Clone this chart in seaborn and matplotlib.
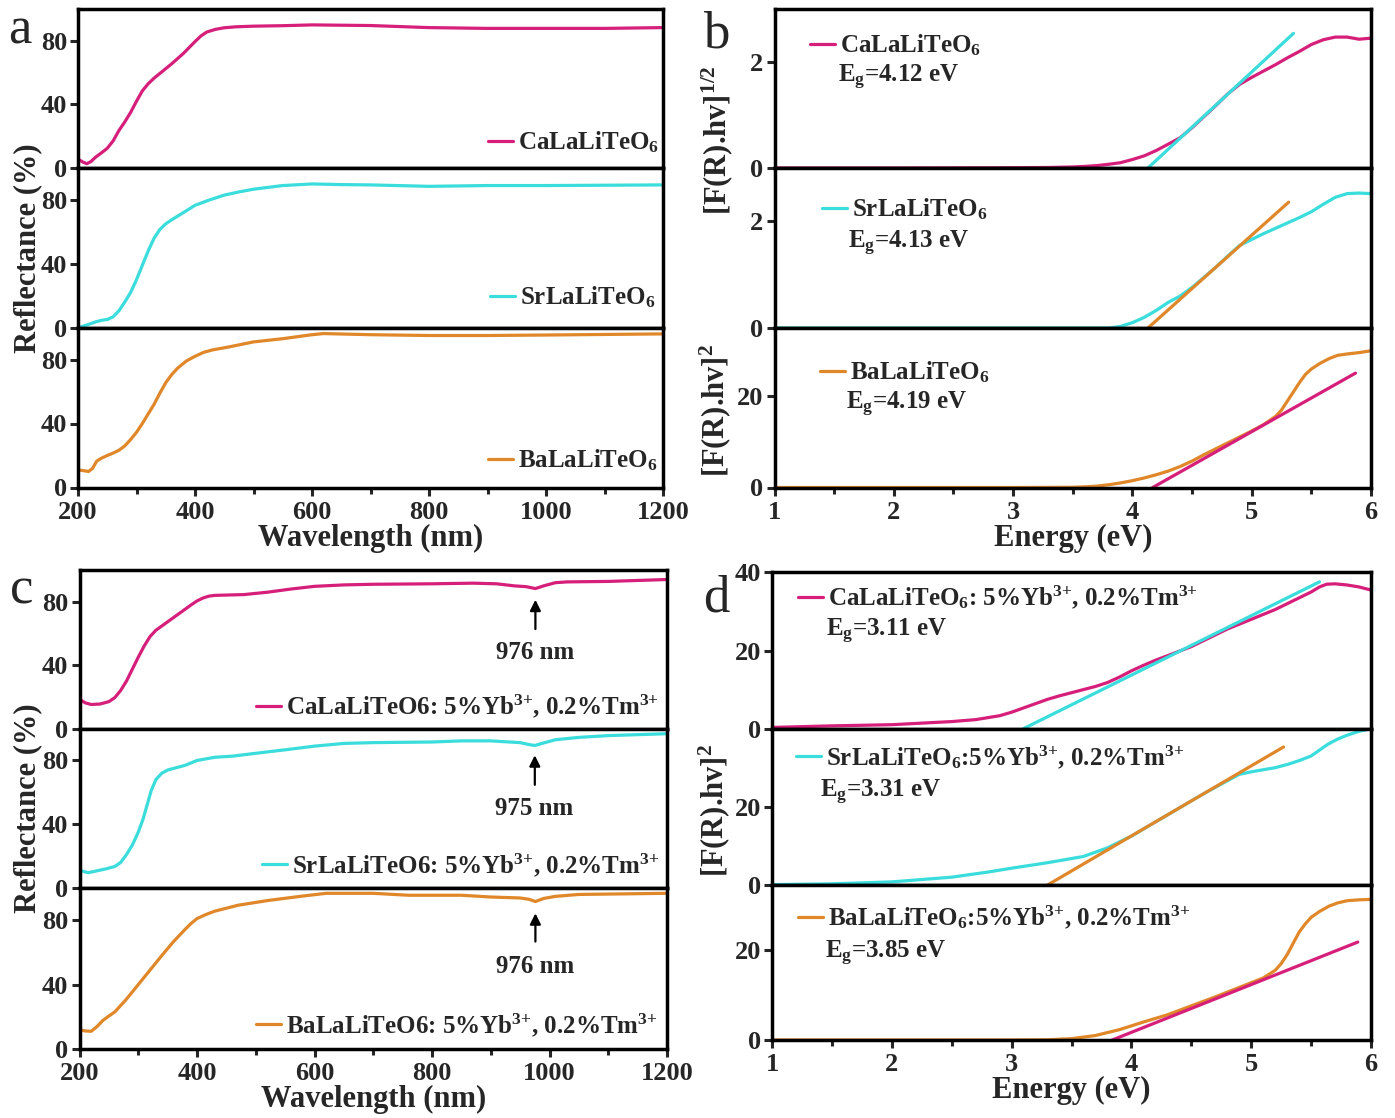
import numpy as np
import pandas as pd
import matplotlib
matplotlib.use('Agg')
import matplotlib.pyplot as plt
import seaborn as sns

sns.set_theme(style='ticks')
plt.rcParams['font.family'] = ['Liberation Serif', 'DejaVu Serif']
plt.rcParams['font.weight'] = 'bold'
plt.rcParams['mathtext.fontset'] = 'custom'
plt.rcParams['mathtext.rm'] = 'Liberation Serif:bold'
plt.rcParams['mathtext.it'] = 'Liberation Serif:bold'
plt.rcParams['mathtext.bf'] = 'Liberation Serif:bold'
plt.rcParams['mathtext.default'] = 'rm'

MAG = '#d61f7a'
CYA = '#3adcdc'
ORA = '#e0872a'
lw = 2.3
fs_tick = 19
fs_lab = 22
fs_leg = 18

# ---- panel a: reflectance of hosts ----
wl_a_ca = [200, 208, 215, 222, 230, 240, 250, 260, 270, 280, 290, 300, 310, 320, 330, 345, 360, 380, 400, 410, 420, 435, 450, 470, 500, 550, 600, 700, 800, 900, 1000, 1100, 1200]
r_a_ca = [5.6, 3.8, 2.7, 4, 6.8, 9.5, 12.4, 17, 23.6, 29, 35, 42, 48.5, 53, 56.5, 61, 65.5, 72, 79.5, 83, 85.5, 87.2, 88.2, 88.8, 89.2, 89.5, 90, 89.6, 88.3, 87.8, 87.8, 87.8, 88.3]
wl_a_sr = [200, 210, 220, 230, 240, 250, 260, 270, 280, 290, 300, 310, 320, 330, 340, 350, 360, 380, 400, 425, 450, 475, 500, 550, 600, 650, 700, 800, 900, 1000, 1200]
r_a_sr = [0, 1, 2.2, 3.5, 4.5, 5, 6.7, 10.5, 16, 22, 30, 39, 48, 56, 61.5, 65, 67.5, 72, 76.6, 80, 83, 85, 86.7, 89, 90, 89.6, 89.4, 88.5, 89, 89, 89.4]
wl_a_ba = [200, 210, 218, 225, 232, 240, 250, 260, 270, 280, 290, 300, 310, 320, 330, 340, 350, 360, 370, 385, 400, 415, 430, 460, 500, 550, 600, 620, 700, 800, 900, 1000, 1200]
r_a_ba = [11, 10.5, 10, 12, 16.5, 18.3, 20, 21.5, 23.3, 26, 30, 34.5, 40, 46, 52, 59, 65.5, 70.5, 74.5, 79, 82, 84.5, 86, 88, 91, 93, 95.5, 96.2, 95.5, 95, 95, 95.3, 96]

# ---- panel b: Tauc plots of hosts ----
e_b_ca = [1, 2, 3, 3.3, 3.5, 3.6, 3.7, 3.8, 3.9, 4.0, 4.1, 4.2, 4.3, 4.4, 4.5, 4.6, 4.7, 4.8, 4.9, 5.0, 5.1, 5.2, 5.3, 5.4, 5.5, 5.6, 5.7, 5.8, 5.9, 6.0]
f_b_ca = [0, 0, 0.005, 0.01, 0.02, 0.03, 0.045, 0.07, 0.1, 0.16, 0.23, 0.33, 0.45, 0.57, 0.76, 0.97, 1.18, 1.4, 1.58, 1.71, 1.83, 1.95, 2.08, 2.2, 2.33, 2.42, 2.47, 2.47, 2.43, 2.45]
fit_b_ca_e = [4.13, 5.35]
fit_b_ca_f = [0, 2.54]
e_b_sr = [1, 2, 3, 3.8, 3.9, 4.0, 4.1, 4.2, 4.3, 4.4, 4.5, 4.6, 4.7, 4.8, 4.9, 5.0, 5.1, 5.2, 5.3, 5.4, 5.5, 5.6, 5.7, 5.8, 5.9, 6.0]
f_b_sr = [0, 0, 0, 0, 0.03, 0.1, 0.2, 0.33, 0.48, 0.6, 0.76, 0.95, 1.14, 1.35, 1.55, 1.66, 1.77, 1.87, 1.97, 2.07, 2.18, 2.32, 2.45, 2.52, 2.53, 2.52]
fit_b_sr_e = [4.13, 5.31]
fit_b_sr_f = [0, 2.36]
e_b_ba = [1, 2, 3, 3.5, 3.6, 3.7, 3.8, 3.9, 4.0, 4.1, 4.2, 4.3, 4.4, 4.5, 4.6, 4.7, 4.8, 4.9, 5.0, 5.1, 5.2, 5.25, 5.3, 5.35, 5.4, 5.45, 5.5, 5.57, 5.65, 5.72, 5.8, 5.9, 6.0]
f_b_ba = [0, 0, 0, 0.05, 0.15, 0.3, 0.6, 1.0, 1.5, 2.1, 2.8, 3.6, 4.6, 5.8, 7.2, 8.5, 9.8, 11.1, 12.4, 13.8, 15.6, 17, 19, 21, 23, 24.8, 26, 27.2, 28.3, 29, 29.3, 29.6, 30]
fit_b_ba_e = [4.17, 5.87]
fit_b_ba_f = [0, 25.1]

# ---- panel c: reflectance of Yb/Tm doped ----
wl_c_ca = [200, 210, 220, 235, 250, 260, 270, 280, 290, 300, 310, 320, 330, 345, 360, 375, 390, 400, 410, 420, 430, 480, 520, 560, 600, 650, 700, 800, 870, 910, 940, 960, 976, 990, 1010, 1030, 1100, 1200]
r_c_ca = [18.4, 16.2, 15.2, 15.5, 17, 19.5, 24, 30, 37.5, 45, 52, 58, 62, 66, 70, 74, 78, 80.5, 82.3, 83.5, 84, 84.5, 86, 88, 89.7, 90.6, 91, 91.3, 91.7, 91.3, 90, 89.5, 88.3, 90, 92, 92.5, 92.8, 94]
wl_c_sr = [200, 215, 230, 245, 260, 270, 280, 290, 300, 308, 315, 322, 330, 340, 350, 365, 380, 400, 430, 460, 500, 550, 600, 650, 700, 800, 850, 900, 950, 965, 975, 990, 1010, 1050, 1100, 1200]
r_c_sr = [11, 9.6, 10.8, 12, 13.5, 16, 21, 27, 35, 43, 52, 61, 68, 72, 74, 75.5, 77, 80, 82, 82.7, 84.5, 86.7, 89, 90.7, 91.2, 91.6, 92.3, 92.3, 91.2, 90, 89.4, 91, 93, 94.5, 95.6, 96.8]
wl_c_ba = [200, 210, 220, 230, 240, 250, 260, 270, 280, 290, 300, 320, 340, 360, 380, 390, 400, 415, 430, 470, 520, 580, 620, 700, 760, 850, 900, 950, 965, 976, 990, 1010, 1050, 1200]
r_c_ba = [12, 11.2, 11, 14, 17.8, 20.5, 23, 27, 31, 35.5, 40, 49, 58, 66.7, 74.4, 78, 81, 83.5, 85.6, 89.3, 92.2, 95, 96.7, 96.7, 95.5, 95.5, 94.4, 93.8, 93, 91.6, 93.5, 94.8, 96, 96.7]
peaks_c = [976, 975, 976]

# ---- panel d: Tauc plots of Yb/Tm doped ----
e_d_ca = [1.0, 1.5, 2.0, 2.5, 2.7, 2.9, 3.0, 3.1, 3.2, 3.3, 3.4, 3.5, 3.6, 3.7, 3.8, 3.9, 4.0, 4.1, 4.2, 4.5, 4.8, 5.0, 5.2, 5.4, 5.5, 5.57, 5.63, 5.7, 5.8, 5.9, 6.0]
f_d_ca = [0.3, 0.7, 1.0, 1.8, 2.3, 3.3, 4.2, 5.3, 6.4, 7.5, 8.4, 9.2, 10, 10.8, 11.8, 13.2, 14.8, 16.2, 17.5, 21, 25.5, 28, 30.5, 33.5, 35, 36.3, 37, 37.1, 36.8, 36.3, 35.5]
fit_d_ca_e = [3.10, 5.57]
fit_d_ca_f = [0, 37.6]
e_d_sr = [1.0, 1.5, 2.0, 2.5, 2.8, 3.0, 3.3, 3.6, 3.8, 4.0, 4.3, 4.6, 4.9, 5.01, 5.2, 5.31, 5.4, 5.5, 5.57, 5.64, 5.72, 5.8, 5.9, 6.0]
f_d_sr = [0.1, 0.3, 0.8, 2.0, 3.3, 4.3, 5.7, 7.3, 9.5, 12.5, 17.9, 23.3, 28.3, 29, 30, 30.9, 31.8, 33, 34.5, 36, 37.3, 38.3, 39.3, 40]
fit_d_sr_e = [3.30, 5.27]
fit_d_sr_f = [0, 35.3]
e_d_ba = [1, 2, 3, 3.3, 3.5, 3.7, 3.9, 4.1, 4.3, 4.5, 4.7, 4.9, 5.1, 5.2, 5.25, 5.3, 5.35, 5.4, 5.45, 5.5, 5.57, 5.65, 5.72, 5.8, 5.9, 6.0]
f_d_ba = [0, 0, 0, 0.05, 0.3, 1.0, 2.3, 4.0, 5.6, 7.6, 9.6, 11.7, 13.8, 15.5, 17, 19, 21.5, 24, 25.8, 27.3, 28.6, 29.8, 30.5, 31, 31.2, 31.3]
fit_d_ba_e = [3.84, 5.89]
fit_d_ba_f = [0, 21.8]

W, H = 1395, 1118
fig = plt.figure(figsize=(W / 100, H / 100), dpi=100)


def px_axes(x0, x1, y0, y1):
    return fig.add_axes([x0 / W, 1 - y1 / H, (x1 - x0) / W, (y1 - y0) / H])


def style(ax, xlim, ylim, yticks, xmaj, xmin, show_xlabels, xticks_on):
    ax.set_xlim(*xlim)
    ax.set_ylim(*ylim)
    ax.set_yticks(yticks)
    ax.set_xticks(np.arange(xlim[0], xlim[1] + 1e-9, xmaj))
    ax.set_xticks(np.arange(xlim[0], xlim[1] + 1e-9, xmin), minor=True)
    for s in ax.spines.values():
        s.set_linewidth(2.5)
        s.set_color('black')
    ax.tick_params(axis='y', direction='out', length=6, width=2.2, labelsize=fs_tick, pad=2)
    ax.tick_params(axis='x', which='major', direction='out', length=6 if xticks_on else 0,
                   width=2.2, labelsize=fs_tick, labelbottom=show_xlabels)
    ax.tick_params(axis='x', which='minor', direction='out', length=4 if xticks_on else 0, width=2.2)
    ax.set_xlabel('')
    ax.set_ylabel('')
    ax.grid(False)


def add_legend(ax, bx, by):
    ax.legend(loc='center left', bbox_to_anchor=(bx, by), frameon=False, handlelength=1.0,
              handletextpad=0.2, borderpad=0, borderaxespad=0, fontsize=fs_leg)


dop = '5%Yb$^{3{+}}$, 0.2%Tm$^{3{+}}$'

# panel a
rows_a = [(9, 168), (168, 327.5), (327.5, 487.5)]
data_a = [(wl_a_ca, r_a_ca, MAG, 'CaLaLiTeO$_6$', 0.70, 0.16),
          (wl_a_sr, r_a_sr, CYA, 'SrLaLiTeO$_6$', 0.705, 0.19),
          (wl_a_ba, r_a_ba, ORA, 'BaLaLiTeO$_6$', 0.70, 0.17)]
for i, ((y0, y1), (x, y, c, lab, bx, by)) in enumerate(zip(rows_a, data_a)):
    ax = px_axes(78, 663, y0, y1)
    sns.lineplot(x=x, y=y, ax=ax, color=c, lw=lw, label=lab)
    style(ax, (200, 1200), (0, 100), [0, 40, 80], 200, 100, i == 2, i == 2)
    add_legend(ax, bx, by)
    if i == 2:
        ax.set_xlabel('Wavelength (nm)', fontsize=fs_lab, fontweight='bold', labelpad=0)

# panel b
rows_b = [(9, 168), (168, 328), (328, 487.5)]
data_b = [(e_b_ca, f_b_ca, MAG, fit_b_ca_e, fit_b_ca_f, CYA, 'CaLaLiTeO$_6$', 'E$_g$=4.12 eV', (0, 3), [0, 2], 0.06, 0.77, 0.106, 0.57),
          (e_b_sr, f_b_sr, CYA, fit_b_sr_e, fit_b_sr_f, ORA, 'SrLaLiTeO$_6$', 'E$_g$=4.13 eV', (0, 3), [0, 2], 0.08, 0.74, 0.123, 0.53),
          (e_b_ba, f_b_ba, ORA, fit_b_ba_e, fit_b_ba_f, MAG, 'BaLaLiTeO$_6$', 'E$_g$=4.19 eV', (0, 35), [0, 20], 0.076, 0.72, 0.12, 0.52)]
for i, ((y0, y1), d) in enumerate(zip(rows_b, data_b)):
    x, y, c, fx, fy, fc, lab, eg, yl, yt, bx, by, ex, ey = d
    ax = px_axes(774.5, 1371, y0, y1)
    sns.lineplot(x=x, y=y, ax=ax, color=c, lw=lw, label=lab)
    sns.lineplot(x=fx, y=fy, ax=ax, color=fc, lw=lw)
    style(ax, (1, 6), yl, yt, 1, 0.5, i == 2, True)
    add_legend(ax, bx, by)
    ax.text(ex, ey, eg, transform=ax.transAxes, fontsize=fs_leg, va='center', ha='left')
    if i == 2:
        ax.set_xlabel('Energy (eV)', fontsize=fs_lab, fontweight='bold', labelpad=0)

# panel c
rows_c = [(570, 728.6), (728.6, 888), (888, 1049)]
data_c = [(wl_c_ca, r_c_ca, MAG, 'CaLaLiTeO6: ' + dop, 0.30, 0.14, 83, 61, 48),
          (wl_c_sr, r_c_sr, CYA, 'SrLaLiTeO6: ' + dop, 0.31, 0.145, 85, 63, 50),
          (wl_c_ba, r_c_ba, ORA, 'BaLaLiTeO6: ' + dop, 0.30, 0.15, 86, 65, 51)]
for i, ((y0, y1), d) in enumerate(zip(rows_c, data_c)):
    x, y, c, lab, bx, by, tip, tail, ty = d
    ax = px_axes(79.5, 667, y0, y1)
    sns.lineplot(x=x, y=y, ax=ax, color=c, lw=lw, label=lab)
    style(ax, (200, 1200), (0, 100), [0, 40, 80], 200, 100, i == 2, i == 2)
    add_legend(ax, bx, by)
    pk = peaks_c[i]
    ax.annotate('', xy=(pk, tip), xytext=(pk, tail),
                arrowprops=dict(arrowstyle='-|>', color='black', lw=1.6, mutation_scale=16))
    ax.text(pk - 1, ty, f'{pk} nm', fontsize=fs_leg, ha='center', va='center')
    if i == 2:
        ax.set_xlabel('Wavelength (nm)', fontsize=fs_lab, fontweight='bold', labelpad=0)

# panel d
rows_d = [(572.5, 728.6), (728.6, 885), (885, 1040)]
data_d = [(e_d_ca, f_d_ca, MAG, fit_d_ca_e, fit_d_ca_f, CYA, 'CaLaLiTeO$_6$: ' + dop, 'E$_g$=3.11 eV', (0, 40), [0, 20, 40], 0.043, 0.84, 0.09, 0.62),
          (e_d_sr, f_d_sr, CYA, fit_d_sr_e, fit_d_sr_f, ORA, 'SrLaLiTeO$_6$:' + dop, 'E$_g$=3.31 eV', (0, 40), [0, 20], 0.04, 0.82, 0.08, 0.59),
          (e_d_ba, f_d_ba, ORA, fit_d_ba_e, fit_d_ba_f, MAG, 'BaLaLiTeO$_6$:' + dop, 'E$_g$=3.85 eV', (0, 34.5), [0, 20], 0.043, 0.79, 0.088, 0.56)]
for i, ((y0, y1), d) in enumerate(zip(rows_d, data_d)):
    x, y, c, fx, fy, fc, lab, eg, yl, yt, bx, by, ex, ey = d
    ax = px_axes(772, 1371, y0, y1)
    sns.lineplot(x=x, y=y, ax=ax, color=c, lw=lw, label=lab)
    sns.lineplot(x=fx, y=fy, ax=ax, color=fc, lw=lw)
    style(ax, (1, 6), yl, yt, 1, 0.5, i == 2, True)
    add_legend(ax, bx, by)
    ax.text(ex, ey, eg, transform=ax.transAxes, fontsize=fs_leg, va='center', ha='left')
    if i == 2:
        ax.set_xlabel('Energy (eV)', fontsize=fs_lab, fontweight='bold', labelpad=0)

# shared y labels and panel letters
fig.text(28 / W, 1 - 248 / H, 'Reflectance (%)', rotation=90, fontsize=fs_lab, ha='center', va='center')
fig.text(28 / W, 1 - 808 / H, 'Reflectance (%)', rotation=90, fontsize=fs_lab, ha='center', va='center')
fig.text(717 / W, 1 - 140 / H, '[F(R).hv]$^{1/2}$', rotation=90, fontsize=fs_lab, ha='center', va='center')
fig.text(715 / W, 1 - 410 / H, '[F(R).hv]$^2$', rotation=90, fontsize=fs_lab, ha='center', va='center')
fig.text(714 / W, 1 - 810 / H, '[F(R).hv]$^2$', rotation=90, fontsize=fs_lab, ha='center', va='center')
for lt, x, y in [('a', 20, 30), ('b', 716, 34), ('c', 22, 590), ('d', 716, 598)]:
    fig.text(x / W, 1 - y / H, lt, fontsize=38, fontweight='normal', ha='center', va='center')

fig.savefig('out.png', dpi=100, facecolor='white')
